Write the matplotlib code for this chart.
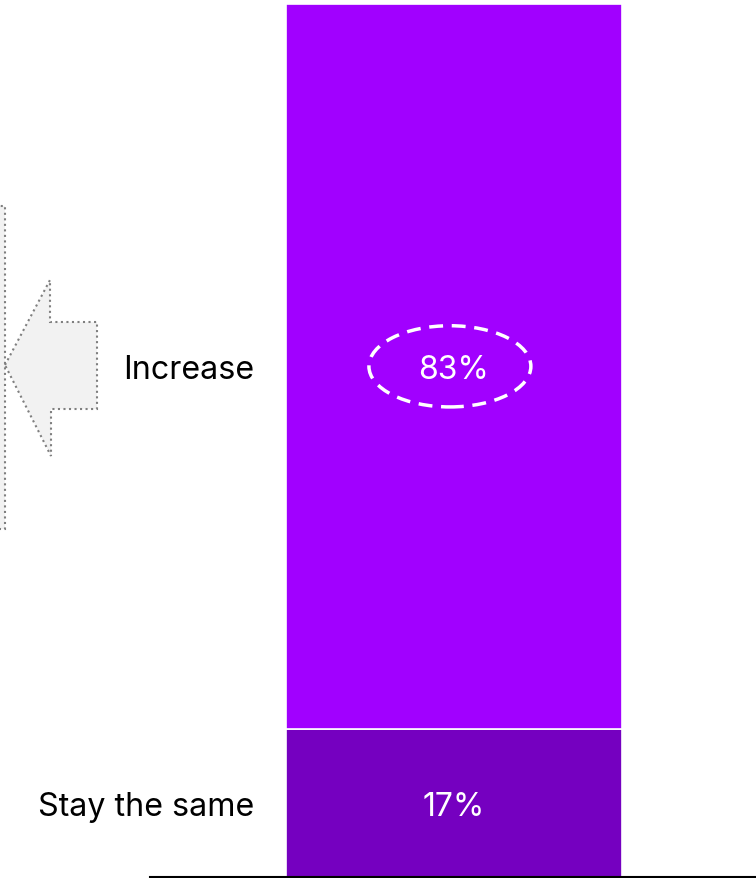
import matplotlib
matplotlib.use("Agg")
import matplotlib.pyplot as plt
from matplotlib.patches import Ellipse, Polygon, Rectangle

# stacked share of responses
categories = ['Stay the same', 'Increase']
shares = [17, 83]
colors = ['#7500C0', '#A100FF']

plt.rcParams['font.family'] = ['Inter', 'DejaVu Sans']

fig = plt.figure(figsize=(7.56, 8.79), dpi=100)
ax = fig.add_axes([0, 0, 1, 1])

bottom = 0
for cat, val, col in zip(categories, shares, colors):
    ax.bar(0, val, width=1, bottom=bottom, color=col, edgecolor='white', linewidth=1.2)
    mid = bottom + val / 2
    ax.text(0, mid, f'{val}%', color='white', fontsize=23,
            ha='center', va='center_baseline')
    ax.text(-0.595, mid, cat, color='black', fontsize=23.2, ha='right',
            va='center_baseline')
    bottom += val

# dashed ring around the larger share
ax.add_patch(Ellipse((-0.012, shares[0] + shares[1] / 2), 0.482, 9.3, fill=False,
                     edgecolor='white', linestyle=(0, (4, 2.5)), linewidth=2.5))

ax.set_xlim(-1.351, 0.899)
ax.set_ylim(-0.1, 100.57)
for side in ['top', 'right', 'left']:
    ax.spines[side].set_visible(False)
ax.spines['bottom'].set_bounds(-0.905, 0.899)
ax.spines['bottom'].set_linewidth(1.5)
ax.spines['bottom'].set_position(('data', 0))
ax.set_xticks([])
ax.set_yticks([])
ax.patch.set_alpha(0)

# pointer arrow on the left, drawn in pixel space
deco = fig.add_axes([0, 0, 1, 1], zorder=-1)
deco.set_xlim(0, 756)
deco.set_ylim(879, 0)
deco.axis('off')
deco.add_patch(Rectangle((-60, 207), 64.5, 323, facecolor='#F2F2F2',
                         edgecolor='#7F7F7F', linestyle=':', linewidth=1.5))
arrow_pts = [(5, 366), (50, 281), (50, 323), (97, 323), (97, 410), (51, 410), (51, 457)]
deco.add_patch(Polygon(arrow_pts, closed=True, facecolor='#F2F2F2',
                       edgecolor='#7F7F7F', linestyle=':', linewidth=1.5))

fig.savefig('out.png', dpi=100)
